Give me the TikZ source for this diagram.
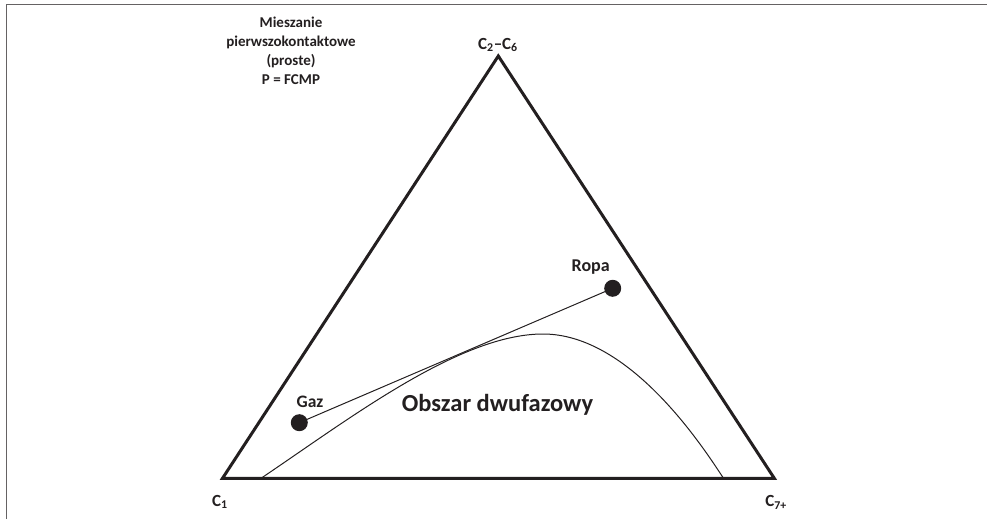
\documentclass[tikz,border=0pt]{standalone}
\usepackage{fontspec}
\setmainfont{Carlito}
\definecolor{ink}{HTML}{231F20}
\begin{document}
\begin{tikzpicture}[x=1pt,y=-1pt,
  lbl/.style={font=\bfseries\fontsize{17}{20}\selectfont, text=ink, inner sep=0pt, anchor=base},
  dot/.style={circle, fill=ink, draw=none, minimum size=17pt, inner sep=0pt},
  thin line/.style={draw=ink, line width=1pt}]
\useasboundingbox (0,0) rectangle (987,519);
% frame
\draw[draw=ink!70, line width=1pt] (6.5,519) -- (6.5,4.5) -- (987,4.5);
% triangle
\coordinate (A) at (498.3,56);
\coordinate (L) at (222.5,478.3);
\coordinate (R) at (774.3,478.3);
\draw[draw=ink, line width=3pt, line join=miter] (L) -- (A) -- (R) -- cycle;
% vertex labels
\node[lbl] (c26) at (498,49.3) {C\textsubscript{2}–C\textsubscript{6}};
\node[lbl] (c1) at (220,506) {C\textsubscript{1}};
\node[lbl] (c7) at (776,506.7) {C\textsubscript{7+}};
% two-phase envelope
\coordinate (e1) at (261,478.3);
\coordinate (ep) at (543,334);
\coordinate (e2) at (723.5,478.3);
\draw[thin line] (e1) .. controls (351,417.7) and (460,334) .. (ep)
  .. controls (630,334) and (703,447) .. (e2);
% points
\node[dot] (gaz) at (299.3,422.7) {};
\node[dot] (ropa) at (612.7,288.3) {};
\draw[thin line] (gaz.center) -- (ropa.center);
\node[lbl, font=\bfseries\fontsize{17.5}{20}\selectfont] (gazl) at (310,407) {Gaz};
\node[lbl, font=\bfseries\fontsize{18}{20}\selectfont] (ropal) at (590.7,271) {Ropa};
\node[lbl, font=\bfseries\fontsize{24.5}{28}\selectfont] (obszar) at (497.5,411.7) {Obszar dwufazowy};
% title
\node[lbl, font=\bfseries\fontsize{15}{18.7}\selectfont, align=center, anchor=base] (title) at (291,84)
  {Mieszanie\\pierwszokontaktowe\\(proste)\\P = FCMP};
\end{tikzpicture}
\end{document}
